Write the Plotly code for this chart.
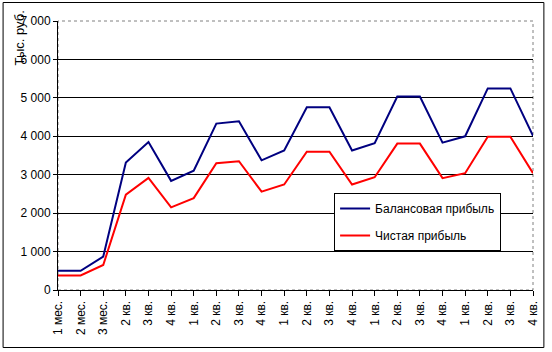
import plotly.graph_objects as go

periods = ["1 мес.", "2 мес.", "3 мес.", "2 кв.", "3 кв.", "4 кв.",
           "1 кв.", "2 кв.", "3 кв.", "4 кв.",
           "1 кв.", "2 кв.", "3 кв.", "4 кв.",
           "1 кв.", "2 кв.", "3 кв.", "4 кв.",
           "1 кв.", "2 кв.", "3 кв.", "4 кв."]
balance_profit = [500, 500, 870, 3315, 3850, 2840, 3105, 4330, 4390, 3375, 3630,
                  4755, 4755, 3630, 3820, 5035, 5035, 3835, 4000, 5245, 5245, 4010]
net_profit = [380, 380, 650, 2480, 2915, 2150, 2390, 3300, 3350, 2560, 2745,
              3600, 3600, 2745, 2935, 3810, 3810, 2910, 3040, 3990, 3990, 3040]
y_ticks = [0, 1000, 2000, 3000, 4000, 5000, 6000, 7000]
grid_ticks = [1000, 2000, 3000, 4000, 5000, 6000]

x = list(range(len(periods)))
FONT = "Liberation Sans, Arial, sans-serif"

fig = go.Figure()
fig.add_trace(go.Scatter(x=x, y=balance_profit, mode="lines", name="Балансовая прибыль",
                         line=dict(color="#000080", width=2), cliponaxis=False,
                         legendgroup="a"))
fig.add_trace(go.Scatter(x=x, y=net_profit, mode="lines", name="Чистая прибыль",
                         line=dict(color="#FF0000", width=2), cliponaxis=False,
                         legendgroup="b"))

W, H = 552, 352
L, R, T, B = 58, 14, 21, 62
pw, ph = W - L - R, H - T - B

def px(xp):
    return (xp - L) / pw

def py(yp):
    return (H - B - yp) / ph

fig.update_layout(
    width=W, height=H,
    margin=dict(l=L, r=R, t=T, b=B, pad=0),
    paper_bgcolor="white", plot_bgcolor="white",
    separators=", ",
    font=dict(family=FONT, size=12, color="black"),
    showlegend=True,
    legend=dict(x=px(337), y=py(193), xanchor="left", yanchor="top",
                bgcolor="white", bordercolor="black", borderwidth=1,
                font=dict(family=FONT, size=12, color="black"),
                tracegroupgap=8, itemwidth=30),
    xaxis=dict(range=[0, len(periods) - 1], tickmode="array", tickvals=x, ticktext=periods,
               tickangle=-90, ticks="outside", ticklen=5, tickcolor="black",
               showline=True, linecolor="black", linewidth=1, showgrid=False,
               zeroline=False, tickfont=dict(family=FONT, size=12)),
    yaxis=dict(range=[0, 7000], tickmode="array", tickvals=y_ticks, tickformat=",d",
               ticks="outside", ticklen=4, tickcolor="black",
               showline=True, linecolor="black", linewidth=1, showgrid=False,
               zeroline=False, tickfont=dict(family=FONT, size=12)),
    yaxis2=dict(range=[0, 7000], overlaying="y", tickmode="array", tickvals=grid_ticks,
                showticklabels=False, showgrid=True, gridcolor="black", gridwidth=1,
                zeroline=False, showline=False, ticks=""),
    shapes=[
        dict(type="rect", xref="paper", yref="paper", x0=0, y0=0, x1=1, y1=1,
             line=dict(color="#808080", width=1, dash="dot"), layer="below"),
        dict(type="rect", xref="paper", yref="paper", x0=px(2.5), y0=py(347.5),
             x1=px(549), y1=py(2.5), line=dict(color="black", width=1)),
    ],
    annotations=[
        dict(text="Тыс. руб.", xref="paper", yref="paper", x=px(19), y=py(38),
             xanchor="center", yanchor="middle", textangle=-90, showarrow=False,
             font=dict(family=FONT, size=13, color="black")),
    ],
)
# dummy trace to activate grid axis
fig.add_trace(go.Scatter(x=[0], y=[0], yaxis="y2", mode="markers", marker=dict(opacity=0),
                         showlegend=False, hoverinfo="skip"))

fig.write_html("out.html")
